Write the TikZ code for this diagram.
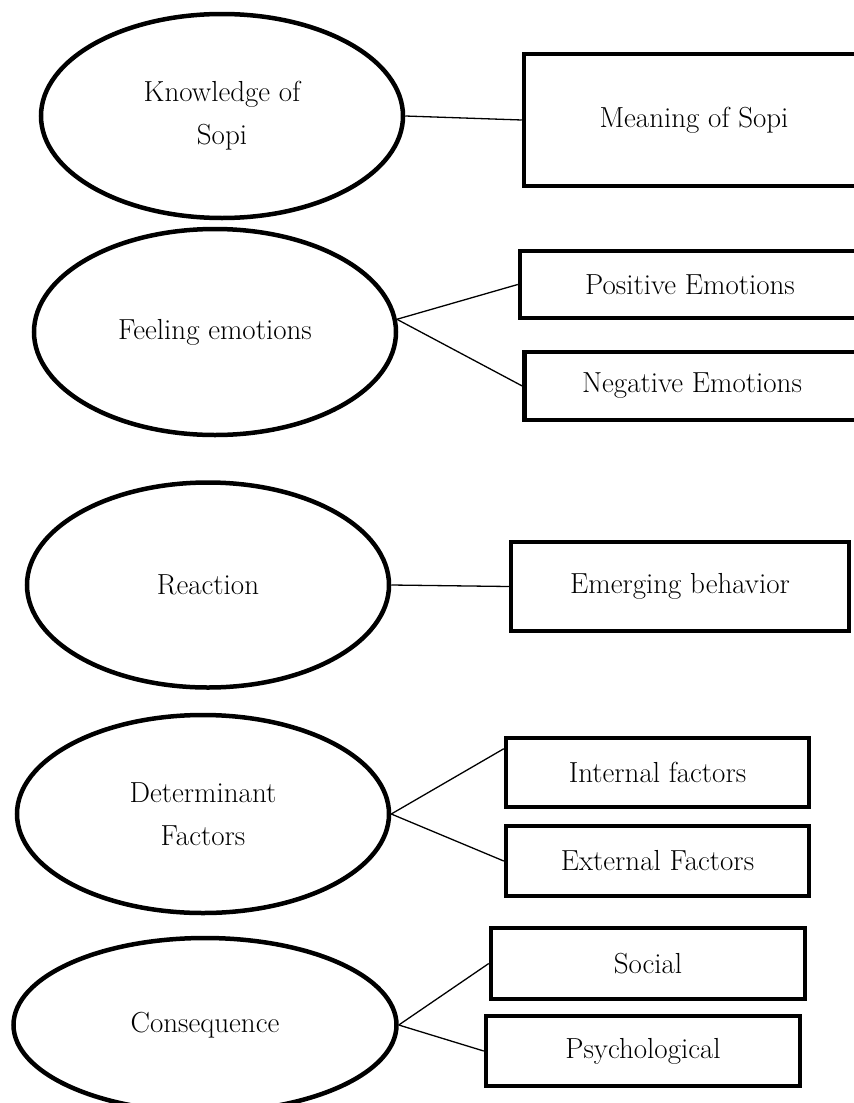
\documentclass[tikz,border=0pt]{standalone}
\usepackage{tikz}
\usetikzlibrary{shapes.geometric}

\begin{document}
\begin{tikzpicture}[x=1pt,y=-1pt,
          oval/.style={draw,ellipse,line width=4.5pt,inner sep=0pt,align=center},
          box/.style={draw,rectangle,line width=4.5pt,inner sep=0pt,align=center},
          link/.style={line width=1.3pt},
          font=\fontsize{29}{43}\selectfont]
        \path[use as bounding box,fill=white] (0,0) rectangle (854,1103);
        % themes
        \node[oval,minimum width=362pt,minimum height=204pt](know) at (222,116){Knowledge of\\Sopi};
        \node[oval,minimum width=362pt,minimum height=206pt](feel) at (215,332){Feeling emotions};
        \node[oval,minimum width=362pt,minimum height=205pt](react) at (208,585){Reaction};
        \node[oval,minimum width=372pt,minimum height=198pt](determ) at (203,814){Determinant\\Factors};
        \node[oval,minimum width=383pt,minimum height=174pt](conseq) at (205,1025){Consequence};
        % sub-themes
        \node[box,minimum width=340pt,minimum height=132pt](meaning) at (694,120){Meaning of Sopi};
        \node[box,minimum width=340pt,minimum height=67pt](pos) at (690,284.5){Positive Emotions};
        \node[box,minimum width=335pt,minimum height=68pt](neg) at (692,386){Negative Emotions};
        \node[box,minimum width=338pt,minimum height=89pt](emerge) at (680,586.5){Emerging behavior};
        \node[box,minimum width=303pt,minimum height=69pt](internal) at (657.5,772.5){Internal factors};
        \node[box,minimum width=303pt,minimum height=70pt](external) at (657.5,861){External Factors};
        \node[box,minimum width=314pt,minimum height=71pt](social) at (648,963.5){Social};
        \node[box,minimum width=314pt,minimum height=70pt](psych) at (643,1051){Psychological};
        % links
        \draw[link](know.east)--(meaning.west);
        \draw[link](feel.4)--(pos.west);
        \draw[link](feel.4)--(neg.west);
        \draw[link](react.east)--(emerge.west);
        \draw[link](determ.east)--([yshift=-13pt]internal.north west);
        \draw[link](determ.east)--(external.west);
        \draw[link](conseq.east)--(social.west);
        \draw[link](conseq.east)--(psych.west);
      \end{tikzpicture}
\end{document}
